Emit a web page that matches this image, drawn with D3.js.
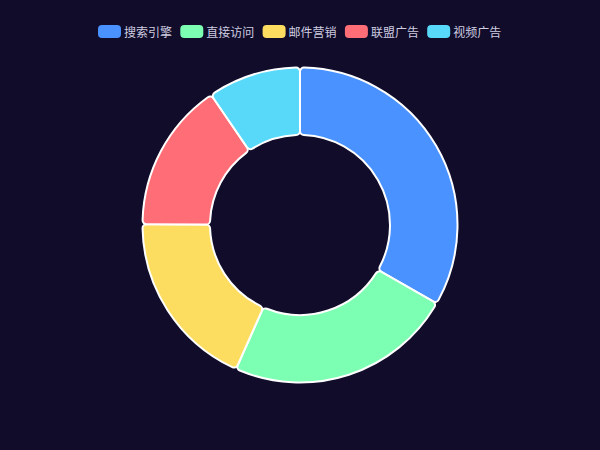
<!DOCTYPE html>
<html>
<head>
<meta charset="utf-8">
<script src="https://cdn.jsdelivr.net/npm/d3@7"></script>
<style>
html,body{margin:0;padding:0;background:#100c2a;}
svg{display:block;}
</style>
</head>
<body>
<svg id="chart" width="600" height="450"></svg>
<script>
const categories = ["搜索引擎", "直接访问", "邮件营销", "联盟广告", "视频广告"];
const values = [1048, 735, 580, 484, 300];
const colors = ["#4992ff", "#7cffb2", "#fddd60", "#ff6e76", "#58d9f9"];

const W = 600, H = 450;
const svg = d3.select("#chart");
svg.append("rect").attr("width", W).attr("height", H).attr("fill", "#100c2a");

const data = categories.map((c, i) => ({name: c, value: values[i]}));
const color = d3.scaleOrdinal().domain(categories).range(colors);

const pie = d3.pie().value(d => d.value).sort(null).startAngle(0).endAngle(2 * Math.PI);
const arc = d3.arc().innerRadius(90).outerRadius(157.5).cornerRadius(4);

const g = svg.append("g").attr("transform", `translate(${W/2},${H/2})`);
g.selectAll("path").data(pie(data)).join("path")
  .attr("d", arc)
  .attr("fill", d => color(d.data.name))
  .attr("stroke", "#fff")
  .attr("stroke-width", 2)
  .attr("stroke-linejoin", "round");

// legend
const step = 82.3, rectW = 23, rectH = 13;
const legend = svg.append("g").attr("transform", "translate(98,25)");
const items = legend.selectAll("g").data(categories).join("g")
  .attr("transform", (d, i) => `translate(${i * step},0)`);
items.append("rect")
  .attr("width", rectW).attr("height", rectH).attr("rx", 4).attr("ry", 4)
  .attr("fill", d => color(d));
items.append("text")
  .attr("x", 26).attr("y", rectH / 2)
  .attr("dominant-baseline", "central")
  .attr("font-family", "'Noto Sans CJK SC', 'Noto Sans', sans-serif")
  .attr("font-size", 12)
  .attr("fill", "#cfcde0")
  .text(d => d);
</script>
</body>
</html>
